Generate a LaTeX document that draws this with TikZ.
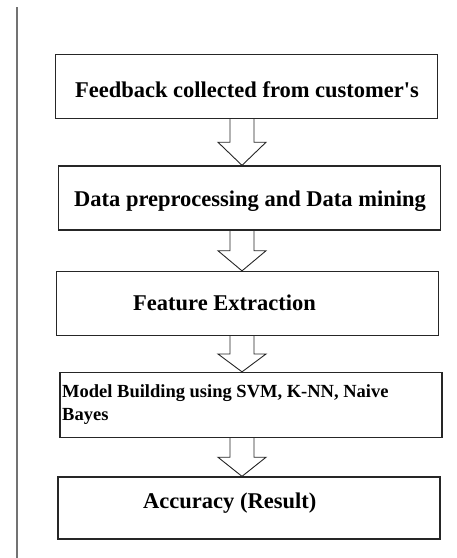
\documentclass[tikz,border=0pt]{standalone}
\usepackage{fontspec}
\setmainfont{Liberation Serif}
\usetikzlibrary{calc}

\begin{document}
\begin{tikzpicture}
        [
          x=1pt, y=-1pt,
          stage/.style={draw=black!85, line width=1.3pt, minimum width=382pt, minimum height=64pt, inner sep=0pt},
          label/.style={anchor=base, font=\bfseries\fontsize{22.5}{27}\selectfont, inner sep=0pt},
          arrowline/.style={draw=black!85, line width=0.9pt, line join=miter}
        ]
        \useasboundingbox (0,0) rectangle (457,558);
        % margin rule
        \draw [black!55, line width=2pt] (17,7) -- (17,558);
        % stages
        \node [stage] (feedback) at (246.5,86.5) {};
        \node [stage] (preproc) at (249.5,198) {};
        \node [stage] (feature) at (247.5,303.5) {};
        \node [stage, minimum height=65pt] (model) at (251,405) {};
        \node [stage, minimum height=62pt] (accuracy) at (249,508) {};
        % labels
        \node [label] (feedbacktxt) at (247,97.3) {Feedback collected from customer\textquotesingle s};
        \node [label] (preproctxt) at (250,206.8) {Data preprocessing and Data mining};
        \node [label, anchor=base west] (featuretxt) at (133,310.7) {Feature Extraction};
        \node [label, anchor=base west, align=left,
               font=\bfseries\fontsize{18.5}{23.4}\selectfont] (modeltxt) at (62,420.7)
               {Model Building using SVM, K-NN, Naive\\Bayes};
        \node [label, anchor=base west] (accuracytxt) at (143,508.3) {Accuracy (Result)};
        % block arrows
        \coordinate (axis) at (242,0);
        \foreach \a/\b in {feedback/preproc,preproc/feature,feature/model,model/accuracy} {
            \coordinate (top) at (\a.south -| axis);
            \coordinate (tip) at (\b.north -| axis);
            \coordinate (mid) at ($(top)!0.5!(tip)$);
            \draw [arrowline] ([xshift=-12pt]top) -- ([xshift=-12pt]mid) -- ([xshift=-24pt]mid)
              -- (tip) -- ([xshift=24pt]mid) -- ([xshift=12pt]mid) -- ([xshift=12pt]top);
        }
\end{tikzpicture}
\end{document}
